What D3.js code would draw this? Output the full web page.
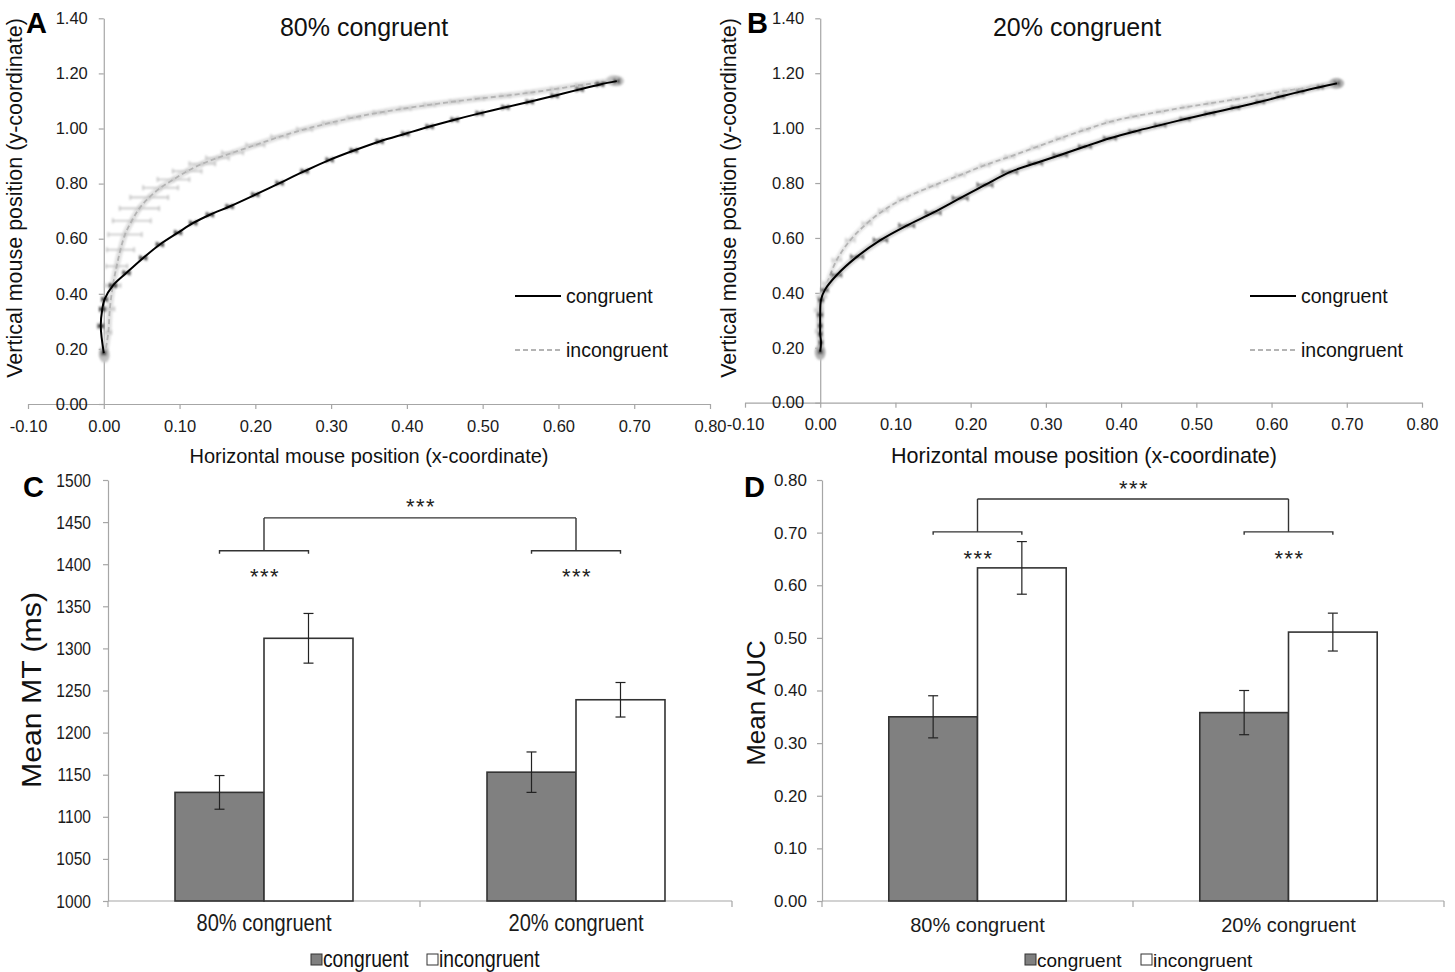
<!DOCTYPE html>
<html>
<head>
<meta charset="utf-8">
<script src="https://cdn.jsdelivr.net/npm/d3@7"></script>
<style>
  body { margin: 0; background: #fff; }
  svg { display: block; }
</style>
</head>
<body>
<div id="chart"></div>
<script>
// mouse trajectories, each point: [x, y, x error, y error]
var a80Cong = [
  [0.000, 0.185, 0.002, 0.004], [-0.004, 0.283, 0.003, 0.004], [-0.002, 0.344, 0.003, 0.004],
  [0.001, 0.380, 0.003, 0.004], [0.012, 0.430, 0.004, 0.004], [0.030, 0.476, 0.004, 0.004],
  [0.052, 0.530, 0.004, 0.004], [0.074, 0.579, 0.004, 0.004], [0.098, 0.622, 0.004, 0.004],
  [0.118, 0.657, 0.004, 0.004], [0.140, 0.687, 0.004, 0.004], [0.166, 0.717, 0.004, 0.004],
  [0.200, 0.760, 0.004, 0.004], [0.232, 0.802, 0.004, 0.004], [0.265, 0.845, 0.004, 0.004],
  [0.298, 0.886, 0.004, 0.004], [0.330, 0.920, 0.004, 0.004], [0.364, 0.953, 0.004, 0.004],
  [0.398, 0.981, 0.004, 0.004], [0.430, 1.007, 0.004, 0.004], [0.463, 1.032, 0.004, 0.004],
  [0.496, 1.055, 0.004, 0.004], [0.530, 1.077, 0.004, 0.004], [0.562, 1.097, 0.004, 0.004],
  [0.595, 1.119, 0.004, 0.004], [0.628, 1.142, 0.004, 0.004], [0.655, 1.160, 0.004, 0.004],
  [0.677, 1.172, 0.003, 0.004]
];
var a80Incong = [
  [0.001, 0.175, 0.003, 0.006], [0.006, 0.260, 0.004, 0.006], [0.008, 0.345, 0.006, 0.008],
  [0.012, 0.430, 0.010, 0.010], [0.017, 0.500, 0.014, 0.010], [0.022, 0.560, 0.018, 0.010],
  [0.028, 0.615, 0.022, 0.010], [0.037, 0.665, 0.025, 0.010], [0.047, 0.710, 0.026, 0.010],
  [0.060, 0.750, 0.025, 0.010], [0.075, 0.785, 0.023, 0.010], [0.092, 0.815, 0.021, 0.010],
  [0.110, 0.845, 0.019, 0.009], [0.130, 0.872, 0.017, 0.009], [0.150, 0.893, 0.015, 0.008],
  [0.170, 0.912, 0.014, 0.008], [0.200, 0.940, 0.012, 0.008], [0.232, 0.970, 0.011, 0.007],
  [0.265, 0.997, 0.010, 0.007], [0.298, 1.020, 0.009, 0.006], [0.330, 1.040, 0.008, 0.006],
  [0.364, 1.058, 0.008, 0.006], [0.398, 1.073, 0.007, 0.005], [0.430, 1.086, 0.007, 0.005],
  [0.463, 1.098, 0.006, 0.005], [0.496, 1.109, 0.006, 0.005], [0.530, 1.119, 0.006, 0.005],
  [0.562, 1.130, 0.005, 0.004], [0.595, 1.143, 0.005, 0.004], [0.628, 1.157, 0.005, 0.004],
  [0.655, 1.167, 0.004, 0.004], [0.672, 1.174, 0.004, 0.004]
];
var b20Cong = [
  [0.000, 0.186, 0.002, 0.006], [0.001, 0.219, 0.002, 0.006], [0.000, 0.250, 0.002, 0.006],
  [0.000, 0.280, 0.002, 0.006], [0.000, 0.320, 0.003, 0.006], [0.001, 0.374, 0.003, 0.006],
  [0.006, 0.410, 0.004, 0.006], [0.022, 0.465, 0.006, 0.006], [0.049, 0.532, 0.008, 0.006],
  [0.080, 0.592, 0.009, 0.006], [0.115, 0.645, 0.010, 0.006], [0.150, 0.692, 0.010, 0.006],
  [0.186, 0.745, 0.010, 0.006], [0.219, 0.793, 0.010, 0.006], [0.252, 0.840, 0.010, 0.006],
  [0.286, 0.872, 0.009, 0.006], [0.319, 0.902, 0.009, 0.005], [0.352, 0.933, 0.008, 0.005],
  [0.385, 0.963, 0.008, 0.005], [0.418, 0.988, 0.007, 0.005], [0.452, 1.011, 0.007, 0.005],
  [0.485, 1.033, 0.006, 0.005], [0.518, 1.054, 0.006, 0.005], [0.552, 1.075, 0.005, 0.004],
  [0.585, 1.096, 0.005, 0.004], [0.612, 1.115, 0.004, 0.004], [0.638, 1.133, 0.004, 0.004],
  [0.665, 1.150, 0.003, 0.004], [0.687, 1.163, 0.003, 0.004]
];
var b20Incong = [
  [0.000, 0.180, 0.002, 0.008], [-0.002, 0.260, 0.004, 0.008], [-0.002, 0.337, 0.005, 0.008],
  [0.002, 0.386, 0.006, 0.008], [0.009, 0.435, 0.006, 0.008], [0.022, 0.520, 0.006, 0.007],
  [0.040, 0.592, 0.006, 0.007], [0.062, 0.653, 0.006, 0.007], [0.084, 0.700, 0.006, 0.007],
  [0.110, 0.742, 0.006, 0.006], [0.150, 0.790, 0.006, 0.006], [0.186, 0.829, 0.006, 0.006],
  [0.219, 0.865, 0.006, 0.006], [0.252, 0.896, 0.006, 0.006], [0.286, 0.930, 0.005, 0.005],
  [0.319, 0.963, 0.005, 0.005], [0.352, 0.994, 0.005, 0.005], [0.385, 1.023, 0.005, 0.005],
  [0.418, 1.043, 0.005, 0.005], [0.452, 1.060, 0.004, 0.004], [0.485, 1.076, 0.004, 0.004],
  [0.518, 1.090, 0.004, 0.004], [0.552, 1.105, 0.004, 0.004], [0.585, 1.120, 0.004, 0.004],
  [0.620, 1.136, 0.004, 0.004], [0.655, 1.150, 0.003, 0.004], [0.685, 1.162, 0.003, 0.004]
];
var trajXTicks = [-0.1, 0, 0.1, 0.2, 0.3, 0.4, 0.5, 0.6, 0.7, 0.8];
var trajYTicks = [0, 0.2, 0.4, 0.6, 0.8, 1.0, 1.2, 1.4];

// bar charts
var barCats = ["80% congruent", "20% congruent"];
var barSeries = ["congruent", "incongruent"];
var mtCong = [1129, 1153];
var mtCongErr = [20, 24];
var mtIncong = [1312, 1239];
var mtIncongErr = [29.5, 20.5];
var mtTicks = [1000, 1050, 1100, 1150, 1200, 1250, 1300, 1350, 1400, 1450, 1500];
var aucCong = [0.350, 0.358];
var aucCongErr = [0.040, 0.042];
var aucIncong = [0.633, 0.511];
var aucIncongErr = [0.050, 0.036];
var aucTicks = [0, 0.1, 0.2, 0.3, 0.4, 0.5, 0.6, 0.7, 0.8];

var fmt2 = function(d) { return d.toFixed(2); };
var SANS = "'Liberation Sans', Arial, sans-serif";

var svg = d3.select("#chart").append("svg")
    .attr("width", 1455)
    .attr("height", 972)
    .attr("font-family", SANS);

svg.append("defs").append("filter")
    .attr("id", "soft")
    .attr("x", "-10%").attr("y", "-10%").attr("width", "120%").attr("height", "120%")
  .append("feGaussianBlur")
    .attr("stdDeviation", 0.9);

// squeeze text horizontally (panel C uses a condensed face)
function squeeze(sel, k) {
  if (!k || k === 1) return;
  sel.each(function() {
    var t = d3.select(this);
    t.attr("x", (+t.attr("x") || 0) / k).attr("transform", "scale(" + k + ",1)");
  });
}

function styleAxis(ax, size, k) {
  ax.select(".domain").attr("stroke", "#a6a6a6").attr("stroke-width", 1.2);
  ax.selectAll(".tick line").attr("stroke", "#a6a6a6").attr("stroke-width", 1.2);
  ax.selectAll(".tick text").attr("fill", "#1a1a1a").attr("font-size", size).attr("font-family", SANS);
  squeeze(ax.selectAll(".tick text"), k);
}

function drawSeries(g, x, y, data, st) {
  var line = d3.line()
      .x(function(d) { return x(d[0]); })
      .y(function(d) { return y(d[1]); })
      .curve(d3.curveCatmullRom.alpha(0.5));

  var soft = g.append("g").attr("filter", "url(#soft)");
  if (st.haloW) {
    soft.append("path").datum(data)
        .attr("d", line)
        .attr("fill", "none")
        .attr("stroke", st.halo)
        .attr("stroke-width", st.haloW)
        .attr("stroke-linecap", "round");
  }
  // start / end blobs
  [data[0], data[data.length - 1]].forEach(function(d, i) {
    soft.append("ellipse")
        .attr("cx", x(d[0])).attr("cy", y(d[1]))
        .attr("rx", i ? 7 : 5).attr("ry", i ? 5 : 7)
        .attr("fill", st.blob);
  });

  var eb = soft.selectAll(null).data(data).enter().append("g")
      .attr("stroke", st.err)
      .attr("stroke-width", st.errW);
  eb.append("line")
      .attr("x1", function(d) { return x(d[0] - d[2]); })
      .attr("x2", function(d) { return x(d[0] + d[2]); })
      .attr("y1", function(d) { return y(d[1]); })
      .attr("y2", function(d) { return y(d[1]); });
  eb.append("line")
      .attr("x1", function(d) { return x(d[0]); })
      .attr("x2", function(d) { return x(d[0]); })
      .attr("y1", function(d) { return y(d[1] - d[3]); })
      .attr("y2", function(d) { return y(d[1] + d[3]); });
  [-1, 1].forEach(function(s) {
    eb.append("line")
        .attr("x1", function(d) { return x(d[0] + s * d[2]); })
        .attr("x2", function(d) { return x(d[0] + s * d[2]); })
        .attr("y1", function(d) { return y(d[1]) - 2.5; })
        .attr("y2", function(d) { return y(d[1]) + 2.5; });
  });

  g.append("path").datum(data)
      .attr("d", line)
      .attr("fill", "none")
      .attr("stroke", st.color)
      .attr("stroke-width", st.w)
      .attr("stroke-dasharray", st.dash || null);
}

var congStyleA = {color: "#000", w: 2, err: "#3a3a3a", errW: 2, haloW: 0, blob: "#bdbdbd"};
var incongStyleA = {color: "#b4b4b4", w: 1.8, dash: "5,3", err: "#c4c4c4", errW: 1.6, halo: "#e0e0e0", haloW: 6, blob: "#c8c8c8"};
var congStyleB = {color: "#000", w: 2, err: "#222", errW: 1.3, halo: "#cfcfcf", haloW: 6, blob: "#b0b0b0"};
var incongStyleB = {color: "#b4b4b4", w: 1.8, dash: "5,3", err: "#c8c8c8", errW: 1.4, halo: "#e4e4e4", haloW: 5, blob: "#c8c8c8"};

function trajPanel(p) {
  var x = d3.scaleLinear().domain([-0.1, 0.8]).range([p.left, p.right]);
  var y = d3.scaleLinear().domain([0, 1.4]).range([p.bottom, p.top]);
  var g = svg.append("g");

  var xa = g.append("g")
      .attr("transform", "translate(0," + y(0) + ")")
      .call(d3.axisBottom(x).tickValues(trajXTicks).tickFormat(fmt2)
        .tickSize(5).tickSizeOuter(0).tickPadding(11));
  var ya = g.append("g")
      .attr("transform", "translate(" + x(0) + ",0)")
      .call(d3.axisLeft(y).tickValues(trajYTicks).tickFormat(fmt2)
        .tickSize(5).tickSizeOuter(0).tickPadding(11));
  styleAxis(xa, 16.5);
  styleAxis(ya, 16.5);

  drawSeries(g, x, y, p.incong, p.incongStyle);
  drawSeries(g, x, y, p.cong, p.congStyle);

  g.append("text").attr("x", p.letterX).attr("y", 33)
      .attr("font-size", 29).attr("font-weight", "bold").text(p.letter);
  g.append("text").attr("x", p.titleX).attr("y", 36)
      .attr("text-anchor", "middle").attr("font-size", 25).attr("fill", "#111").text(p.title);
  g.append("text").attr("x", p.xTitleX).attr("y", 463)
      .attr("text-anchor", "middle").attr("font-size", p.xTitleSize).attr("fill", "#111")
      .text("Horizontal mouse position (x-coordinate)");
  g.append("text")
      .attr("transform", "translate(" + p.yTitleX + ",198) rotate(-90)")
      .attr("text-anchor", "middle").attr("font-size", 21.5).attr("fill", "#111")
      .text("Vertical mouse position (y-coordinate)");

  // legend
  var lg = g.append("g").attr("transform", "translate(" + p.legendX + ",0)");
  lg.append("line").attr("x1", 0).attr("x2", 46).attr("y1", 296).attr("y2", 296)
      .attr("stroke", "#000").attr("stroke-width", 2.2);
  lg.append("line").attr("x1", 0).attr("x2", 46).attr("y1", 350).attr("y2", 350)
      .attr("stroke", "#b4b4b4").attr("stroke-width", 1.8).attr("stroke-dasharray", "5,3");
  lg.append("text").attr("x", 51).attr("y", 303).attr("font-size", 19.5).attr("fill", "#111").text("congruent");
  lg.append("text").attr("x", 51).attr("y", 357).attr("font-size", 19.5).attr("fill", "#111").text("incongruent");
}

trajPanel({
  left: 28, right: 710, bottom: 404, top: 18.3,
  cong: a80Cong, incong: a80Incong, congStyle: congStyleA, incongStyle: incongStyleA,
  letter: "A", letterX: 26, title: "80% congruent", titleX: 364,
  xTitleX: 369, xTitleSize: 20, yTitleX: 22, legendX: 515
});
trajPanel({
  left: 745, right: 1422, bottom: 402.7, top: 18.3,
  cong: b20Cong, incong: b20Incong, congStyle: congStyleB, incongStyle: incongStyleB,
  letter: "B", letterX: 747, title: "20% congruent", titleX: 1077,
  xTitleX: 1084, xTitleSize: 21.5, yTitleX: 736, legendX: 1250
});

function barPanel(p) {
  var x0 = d3.scaleBand().domain(barCats).range([p.left, p.right]);
  var x1 = d3.scaleBand().domain(barSeries).range([0, x0.bandwidth()]).paddingOuter(0.753);
  var y = d3.scaleLinear().domain([p.ticks[0], p.ticks[p.ticks.length - 1]]).range([901, 480]);
  var g = svg.append("g");

  var ya = g.append("g")
      .attr("transform", "translate(" + p.left + ",0)")
      .call(d3.axisLeft(y).tickValues(p.ticks).tickFormat(p.fmt)
        .tickSize(5).tickSizeOuter(0).tickPadding(p.tickPad));
  styleAxis(ya, p.tickSize, p.squeeze);

  var xa = g.append("g")
      .attr("transform", "translate(0,901)")
      .call(d3.axisBottom(x0).tickSize(0).tickPadding(p.catPad));
  styleAxis(xa, p.catSize, p.squeeze);
  xa.select(".domain").attr("d", "M" + p.left + ",0H" + p.right);
  // category boundary ticks
  g.selectAll(null).data([p.left, p.left + x0.step(), p.right]).enter().append("line")
      .attr("x1", function(d) { return d; }).attr("x2", function(d) { return d; })
      .attr("y1", 901).attr("y2", 907)
      .attr("stroke", "#a6a6a6").attr("stroke-width", 1.2);

  var rows = barCats.map(function(c, i) {
    return [
      {cat: c, s: "congruent", v: p.cong[i], e: p.congErr[i]},
      {cat: c, s: "incongruent", v: p.incong[i], e: p.incongErr[i]}
    ];
  });
  var flat = d3.merge(rows);
  var bx = function(d) { return x0(d.cat) + x1(d.s); };
  var cx = function(d) { return bx(d) + x1.bandwidth() / 2; };

  g.selectAll(null).data(flat).enter().append("rect")
      .attr("x", bx)
      .attr("y", function(d) { return y(d.v); })
      .attr("width", x1.bandwidth())
      .attr("height", function(d) { return 901 - y(d.v); })
      .attr("fill", function(d) { return d.s === "congruent" ? "#808080" : "#fff"; })
      .attr("stroke", "#333")
      .attr("stroke-width", 1.6);

  var eb = g.selectAll(null).data(flat).enter().append("g")
      .attr("stroke", "#222").attr("stroke-width", 1.2);
  eb.append("line")
      .attr("x1", cx).attr("x2", cx)
      .attr("y1", function(d) { return y(d.v - d.e); })
      .attr("y2", function(d) { return y(d.v + d.e); });
  [-1, 1].forEach(function(s) {
    eb.append("line")
        .attr("x1", function(d) { return cx(d) - 5; })
        .attr("x2", function(d) { return cx(d) + 5; })
        .attr("y1", function(d) { return y(d.v + s * d.e); })
        .attr("y2", function(d) { return y(d.v + s * d.e); });
  });

  // significance brackets
  var br = g.append("g").attr("fill", "none").attr("stroke", "#333").attr("stroke-width", 1.4);
  var yb = y(p.bracket), yt = y(p.bracketTop);
  var mids = barCats.map(function(c) { return x0(c) + x0.bandwidth() / 2; });
  rows.forEach(function(r, i) {
    var a = cx(r[0]), b = cx(r[1]);
    br.append("path").attr("d", "M" + a + "," + (yb + 3) + "V" + yb + "H" + b + "V" + (yb + 3));
    br.append("path").attr("d", "M" + mids[i] + "," + yb + "V" + yt);
    g.append("text").attr("x", mids[i] + 1).attr("y", yb + p.starBelow)
        .attr("text-anchor", "middle").attr("font-size", 22).attr("letter-spacing", 1.5)
        .attr("fill", "#222").text("***");
  });
  br.append("path").attr("d", "M" + mids[0] + "," + yt + "H" + mids[1]);
  g.append("text").attr("x", (mids[0] + mids[1]) / 2 + 1).attr("y", yt + p.starAbove)
      .attr("text-anchor", "middle").attr("font-size", 22).attr("letter-spacing", 1.5)
      .attr("fill", "#222").text("***");

  g.append("text").attr("x", p.letterX).attr("y", 497)
      .attr("font-size", 29).attr("font-weight", "bold").text(p.letter);
  g.append("text")
      .attr("transform", "translate(" + p.yTitleX + "," + p.yTitleY + ") rotate(-90) scale(" + p.yTitleStretch + ",1)")
      .attr("text-anchor", "middle").attr("font-size", p.yTitleSize).attr("fill", "#111")
      .text(p.yTitle);

  // legend
  var lg = g.append("g").attr("transform", "translate(" + p.legendX + ",0)");
  barSeries.forEach(function(s, i) {
    var off = i * p.legendStep;
    lg.append("rect").attr("x", off).attr("y", 954).attr("width", 11).attr("height", 11)
        .attr("fill", i ? "#fff" : "#808080").attr("stroke", "#333").attr("stroke-width", 1);
    var t = lg.append("text").attr("x", off + 12).attr("y", 967)
        .attr("font-size", p.legendSize).attr("fill", "#111").text(s);
    squeeze(t, p.squeeze);
  });
}

barPanel({
  left: 108, right: 732, ticks: mtTicks, fmt: d3.format("d"),
  cong: mtCong, congErr: mtCongErr, incong: mtIncong, incongErr: mtIncongErr,
  tickSize: 19, tickPad: 12, catSize: 24.5, catPad: 13, squeeze: 0.82,
  bracket: 1416, bracketTop: 1455, starBelow: 33, starAbove: -4,
  letter: "C", letterX: 23, yTitle: "Mean MT (ms)", yTitleX: 41, yTitleY: 690,
  yTitleSize: 27, yTitleStretch: 1.12,
  legendX: 311, legendStep: 116, legendSize: 23.5
});
barPanel({
  left: 822, right: 1444, ticks: aucTicks, fmt: fmt2,
  cong: aucCong, congErr: aucCongErr, incong: aucIncong, incongErr: aucIncongErr,
  tickSize: 17, tickPad: 10, catSize: 20, catPad: 17, squeeze: 1,
  bracket: 0.7015, bracketTop: 0.764, starBelow: 34, starAbove: -3,
  letter: "D", letterX: 744, yTitle: "Mean AUC", yTitleX: 765, yTitleY: 703,
  yTitleSize: 26, yTitleStretch: 1,
  legendX: 1025, legendStep: 116, legendSize: 19
});
</script>
</body>
</html>
